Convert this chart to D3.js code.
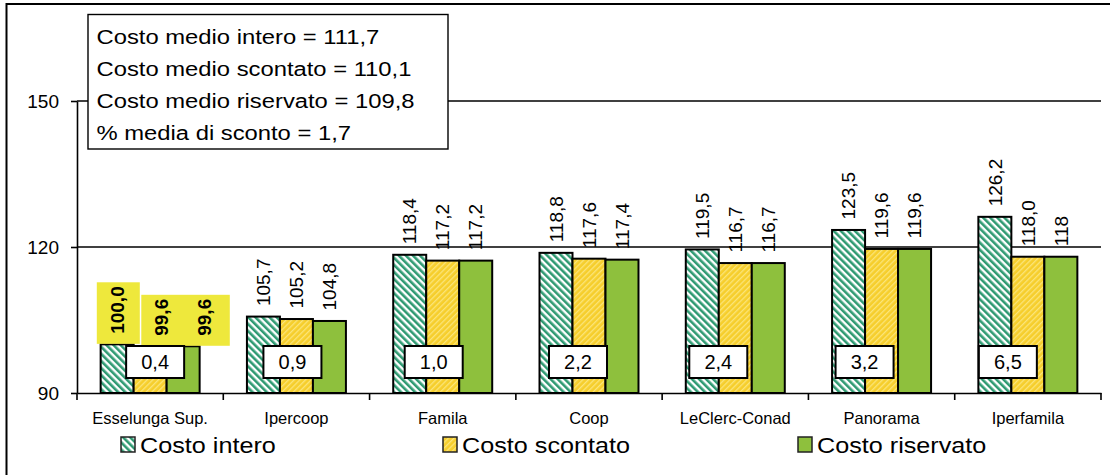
<!DOCTYPE html>
<html><head><meta charset="utf-8">
<script src="https://cdn.jsdelivr.net/npm/d3@7"></script>
<style>
html,body{margin:0;padding:0;background:#fff;}
text{font-family:"Liberation Sans",Arial,sans-serif;fill:#000;}
</style></head>
<body><svg id="c" width="1110" height="475"></svg>
<script>
// ---- data ----
const categories = ["Esselunga Sup.","Ipercoop","Famila","Coop","LeClerc-Conad","Panorama","Iperfamila"];
const seriesNames = ["Costo intero","Costo scontato","Costo riservato"];
const costoIntero    = [100.0,105.7,118.4,118.8,119.5,123.5,126.2];
const costoScontato  = [99.6,105.2,117.2,117.6,116.7,119.6,118.0];
const costoRiservato = [99.6,104.8,117.2,117.4,116.7,119.6,118.0];
const labelsIntero    = ["100,0","105,7","118,4","118,8","119,5","123,5","126,2"];
const labelsScontato  = ["99,6","105,2","117,2","117,6","116,7","119,6","118,0"];
const labelsRiservato = ["99,6","104,8","117,2","117,4","116,7","119,6","118"];
const scontoPerc = ["0,4","0,9","1,0","2,2","2,4","3,2","6,5"];
const yTicks = [90,120,150];
const statsLines = ["Costo medio intero = 111,7","Costo medio scontato = 110,1","Costo medio riservato = 109,8","% media di sconto = 1,7"];

// ---- layout constants ----
const W = 1110, H = 475;
const plotL = 77, plotR = 1101, plotT = 101, plotB = 393;
const boxNudge = [5,-4,-9,-11,-17,-17,-20];       // horizontal nudge of discount boxes
const highlightCat = 0;                           // highlighted category (bold labels)
const highlightLabelNudge = [0, 11.5, 21];        // nudge of highlighted labels

const svg = d3.select("#c");
const defs = svg.append("defs");

// patterns
const pI = defs.append("pattern").attr("id","pInt").attr("patternUnits","userSpaceOnUse")
  .attr("width",5).attr("height",5).attr("patternTransform","rotate(-45)");
pI.append("rect").attr("width",5).attr("height",5).attr("fill","#ffffff");
pI.append("rect").attr("width",2.6).attr("height",5).attr("fill","#2f9a72");
const pS = defs.append("pattern").attr("id","pSco").attr("patternUnits","userSpaceOnUse")
  .attr("width",4).attr("height",4).attr("patternTransform","rotate(45)");
pS.append("rect").attr("width",4).attr("height",4).attr("fill","#f6ce2c");
pS.append("rect").attr("width",1.3).attr("height",4).attr("fill","#fbe57a");
const fills = ["url(#pInt)","url(#pSco)","#8ec03d"];

// outer frame
svg.append("rect").attr("x",6.5).attr("y",4).attr("width",W+20).attr("height",H+20)
  .attr("fill","none").attr("stroke","#000").attr("stroke-width",2);

const xCat = d3.scaleBand().domain(categories).range([plotL,plotR]).padding(0);
const x0 = d3.scaleBand().domain(categories).range([plotL,plotR]).paddingInner(0.3233).paddingOuter(0.16165);
const x1 = d3.scaleBand().domain(seriesNames).range([0,x0.bandwidth()]);
const y = d3.scaleLinear().domain([90,150]).range([plotB,plotT]);

// gridlines
svg.append("g").selectAll("line").data(yTicks.filter(t=>t>90)).join("line")
  .attr("x1",plotL).attr("x2",plotR).attr("y1",d=>y(d)).attr("y2",d=>y(d))
  .attr("stroke","#000").attr("stroke-width",1.6);

const seriesVals = [costoIntero,costoScontato,costoRiservato];
const seriesLabels = [labelsIntero,labelsScontato,labelsRiservato];
const barData = [];
categories.forEach((c,i)=>seriesNames.forEach((s,j)=>barData.push({c,i,s,j,v:seriesVals[j][i],lab:seriesLabels[j][i]})));

// bars
svg.append("g").selectAll("rect").data(barData).join("rect")
  .attr("x",d=>x0(d.c)+x1(d.s)).attr("width",x1.bandwidth())
  .attr("y",d=>y(d.v)).attr("height",d=>y(90)-y(d.v))
  .attr("fill",d=>fills[d.j]).attr("stroke","#000").attr("stroke-width",2);

// axes
const yAxis = svg.append("g").attr("transform",`translate(${plotL},0)`)
  .call(d3.axisLeft(y).tickValues(yTicks).tickSize(6).tickSizeOuter(0).tickPadding(12).tickFormat(d3.format("d")));
yAxis.select(".domain").attr("stroke","#000").attr("stroke-width",1.6);
yAxis.selectAll(".tick line").attr("stroke","#000").attr("stroke-width",1.6);
yAxis.selectAll(".tick text").attr("font-size",19).attr("font-family","Liberation Sans, Arial");

const xAxis = svg.append("g").attr("transform",`translate(0,${plotB})`)
  .call(d3.axisBottom(xCat).tickSize(0).tickSizeOuter(0).tickPadding(19));
xAxis.select(".domain").attr("stroke","#000").attr("stroke-width",1.6);
xAxis.selectAll(".tick text").attr("font-size",16.5).attr("font-family","Liberation Sans, Arial").attr("dy","0.71em");
// category boundary ticks
const bounds = categories.map(c=>xCat(c)).concat([plotR]);
svg.append("g").selectAll("line").data(bounds).join("line")
  .attr("x1",d=>d).attr("x2",d=>d).attr("y1",plotB).attr("y2",plotB+7)
  .attr("stroke","#000").attr("stroke-width",1.6);

// stats box
const sb = svg.append("g");
sb.append("rect").attr("x",88).attr("y",14.5).attr("width",360).attr("height",134.5)
  .attr("fill","#fff").attr("stroke","#000").attr("stroke-width",1.4);
sb.selectAll("g.ln").data(statsLines).join("g").attr("class","ln")
  .attr("transform",(d,i)=>`translate(96.5,${43.5+i*32}) scale(1.19,1)`)
  .append("text").attr("font-size",20).text(d=>d);

// highlight backgrounds (placed behind highlighted labels)
const hlLayer = svg.append("g");

// value labels
const lblG = svg.append("g");
const labs = lblG.selectAll("text").data(barData).join("text")
  .attr("transform",d=>{
    const cx = x0(d.c)+x1(d.s)+x1.bandwidth()/2 + (d.i===highlightCat?highlightLabelNudge[d.j]:0);
    return `translate(${cx},${y(d.v)-10.5}) rotate(-90)`;
  })
  .attr("dy","0.35em").attr("font-size",19)
  .attr("font-weight",d=>d.i===highlightCat?"bold":"normal")
  .text(d=>d.lab);

// highlight boxes from label bboxes
function groupBox(nodes){
  let x0b=Infinity,y0b=Infinity,x1b=-Infinity,y1b=-Infinity;
  nodes.forEach(n=>{
    const r=n.getBoundingClientRect();
    x0b=Math.min(x0b,r.left);y0b=Math.min(y0b,r.top);x1b=Math.max(x1b,r.right);y1b=Math.max(y1b,r.bottom);
  });
  return {x0:x0b,y0:y0b,x1:x1b,y1:y1b};
}
const hl = labs.filter(d=>d.i===highlightCat).nodes();
const groups = [[hl[0]],[hl[1],hl[2]]];
groups.forEach(g=>{
  const b = groupBox(g);
  hlLayer.append("rect").attr("x",b.x0-10).attr("y",b.y0-4)
    .attr("width",(b.x1-b.x0)+(g.length>1?25:22)).attr("height",(b.y1-b.y0)+14)
    .attr("fill","#eee83c");
});

// discount boxes
const db = svg.append("g").selectAll("g").data(categories).join("g")
  .attr("transform",(c,i)=>`translate(${xCat(c)+xCat.bandwidth()/2+boxNudge[i]},${y(90)-47})`);
db.append("rect").attr("x",-29).attr("y",0).attr("width",58).attr("height",32)
  .attr("fill","#fff").attr("stroke","#000").attr("stroke-width",2);
db.append("text").attr("x",0).attr("y",23).attr("text-anchor","middle").attr("font-size",20)
  .text((c,i)=>scontoPerc[i]);

// legend
const legX = [121,443,798];
const lg = svg.append("g").selectAll("g").data(seriesNames).join("g")
  .attr("transform",(d,i)=>`translate(${legX[i]},437)`);
lg.append("rect").attr("width",14).attr("height",15).attr("fill",(d,i)=>fills[i])
  .attr("stroke","#222").attr("stroke-width",1.5);
lg.append("g").attr("transform","translate(19,16) scale(1.12,1)")
  .append("text").attr("font-size",22.5).text(d=>d);
</script></body></html>
